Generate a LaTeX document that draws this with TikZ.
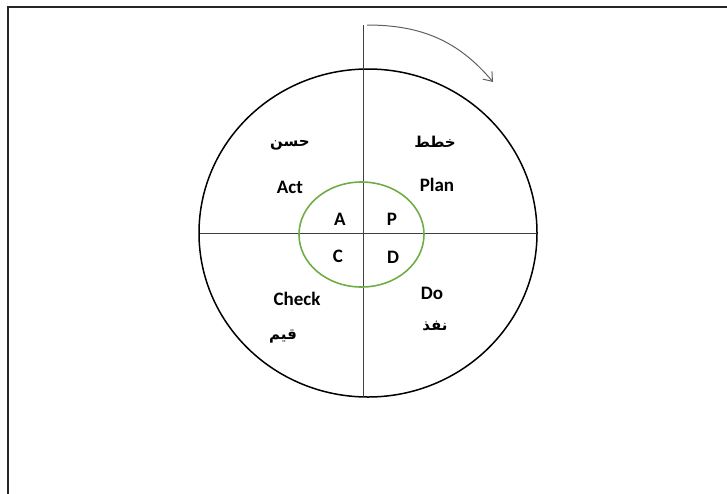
\documentclass[tikz,border=0pt]{standalone}
\usepackage{fontspec}
\setmainfont{Carlito}
\newfontfamily\arabicfont[Script=Arabic]{DejaVu Sans}
\TeXXeTstate=1
\usetikzlibrary{arrows.meta}
\definecolor{leafgreen}{RGB}{112,173,71}
\definecolor{arrowgray}{RGB}{95,95,95}

\begin{document}
\begin{tikzpicture}[x=1pt,y=-1pt,>={Straight Barb[length=8pt,width=12pt]},
  lbl/.style={font=\fontsize{19}{22}\selectfont\bfseries},
  ar/.style={font=\arabicfont\fontsize{15}{18}\selectfont\bfseries}]
  \useasboundingbox (0,0) rectangle (727,493);
  % frame
  \draw[line width=2pt,black!85] (8,7) rectangle (745,510);
  % cycle
  \coordinate (mid) at (368,233);
  \coordinate (core) at (361.5,234.5);
  \coordinate (top) at (363,25);
  \coordinate (bottom) at (363,397);
  \coordinate (left) at (200,233);
  \coordinate (right) at (537,233);
  \coordinate (arrS) at (367,25);
  \coordinate (arrE) at (493,82);
  \draw[line width=1.5pt] (mid) ellipse [x radius=169, y radius=164];
  \draw[black!75,line width=1pt] (top) -- (bottom);
  \draw[black!75,line width=1pt] (left) -- (right);
  \draw[leafgreen,line width=1.6pt] (core) ellipse [x radius=62.5, y radius=52.5];
  \draw[->,arrowgray,line width=1pt] (arrS) to[out=0,in=130] (arrE);
  % labels
  \node[ar] (hassin) at (290,145) {\beginR حسن\endR};
  \node[ar] (khattit) at (435,142) {\beginR خطط\endR};
  \node[lbl] (act) at (290,187) {Act};
  \node[lbl] (plan) at (437,185) {Plan};
  \node[lbl] (a) at (340,219) {A};
  \node[lbl] (p) at (392,219) {P};
  \node[lbl] (c) at (338,256) {C};
  \node[lbl] (d) at (393,257) {D};
  \node[lbl] (check) at (297,299) {Check};
  \node[lbl] (do) at (432,293) {Do};
  \node[ar] (qayyim) at (283,337) {\beginR قيم\endR};
  \node[ar] (naffidh) at (435,326) {\beginR نفذ\endR};
\end{tikzpicture}
\end{document}
